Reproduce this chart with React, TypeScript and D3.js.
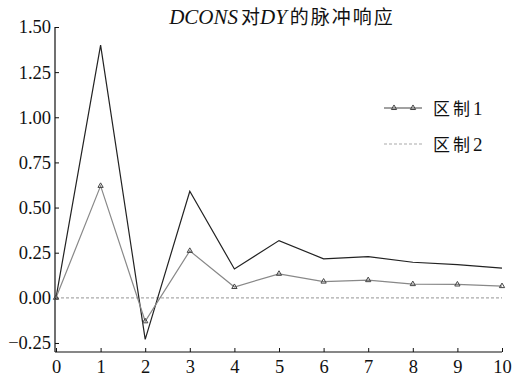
import { useEffect, useRef } from 'react';
import * as d3 from 'd3';

const periods = [0, 1, 2, 3, 4, 5, 6, 7, 8, 9, 10];
const upperValues = [0, 1.40, -0.23, 0.59, 0.16, 0.317, 0.216, 0.228, 0.197, 0.184, 0.164];
const lowerValues = [0, 0.62, -0.13, 0.26, 0.06, 0.133, 0.09, 0.098, 0.076, 0.074, 0.065];
const yTicks = [-0.25, 0, 0.25, 0.5, 0.75, 1.0, 1.25, 1.5];
const legendLabels = ['区制1', '区制2'];

const W = 515, H = 379;
const m = { top: 27, right: 13, bottom: 27, left: 56 };
const SERIF = 'Liberation Serif, DejaVu Serif, serif';
const CJK = 'Noto Sans CJK SC, sans-serif';

export default function App() {
  const svgRef = useRef<SVGSVGElement>(null);

  useEffect(() => {
    const svg = d3.select(svgRef.current);
    svg.selectAll('*').remove();

    const x = d3.scaleLinear().domain([0, 10]).range([m.left, W - m.right]);
    const y = d3.scaleLinear().domain([-0.3, 1.5]).range([H - m.bottom, m.top]);

    // Axes
    const yAxis = svg.append('g').attr('transform', `translate(${m.left - 1},0)`)
      .call(d3.axisRight(y).tickValues(yTicks).tickSize(4).tickFormat(d3.format('.2f')))
      .attr('font-family', SERIF).attr('font-size', 18.5);
    yAxis.select('.domain').attr('d', `M0,${m.top}V${H - m.bottom}`).attr('stroke', '#111').attr('stroke-width', 1.2);
    yAxis.selectAll('.tick line').attr('stroke', '#111');
    yAxis.selectAll('text').attr('x', -4).attr('text-anchor', 'end').attr('fill', '#111');

    const xAxis = svg.append('g').attr('transform', `translate(0,${H - m.bottom})`)
      .call(d3.axisTop(x).tickValues(periods).tickSize(4).tickFormat(d3.format('d')))
      .attr('font-family', SERIF).attr('font-size', 18.5);
    xAxis.select('.domain').attr('d', `M${m.left - 1},0H${W - m.right}`).attr('stroke', '#111').attr('stroke-width', 1.2);
    xAxis.selectAll('.tick line').attr('stroke', '#111');
    xAxis.selectAll('text').attr('y', 21).attr('dy', 0).attr('fill', '#111');

    // Zero line
    svg.append('line')
      .attr('x1', x(0)).attr('x2', x(10)).attr('y1', y(0)).attr('y2', y(0))
      .attr('stroke', '#aaa').attr('stroke-width', 1.2).attr('stroke-dasharray', '3,2');

    const line = d3.line<number>().x((_, i) => x(periods[i])).y(d => y(d));

    svg.append('path').datum(upperValues)
      .attr('fill', 'none').attr('stroke', '#222').attr('stroke-width', 1.2).attr('d', line);

    svg.append('path').datum(lowerValues)
      .attr('fill', 'none').attr('stroke', '#888').attr('stroke-width', 1.2).attr('d', line);

    const tri = d3.symbol().type(d3.symbolTriangle).size(12);
    svg.append('g').selectAll('path').data(lowerValues).join('path')
      .attr('transform', (d, i) => `translate(${x(periods[i])},${y(d)})`)
      .attr('d', tri).attr('fill', 'none').attr('stroke', '#444').attr('stroke-width', 1);

    // Title
    const title = svg.append('text').attr('x', 282).attr('y', 24).attr('text-anchor', 'middle')
      .attr('font-size', 21).attr('fill', '#111');
    title.append('tspan').attr('font-family', SERIF).attr('font-style', 'italic').text('DCONS');
    title.append('tspan').attr('font-family', CJK).attr('font-size', 19).attr('dx', 3).text('对');
    title.append('tspan').attr('font-family', SERIF).attr('font-style', 'italic').text('DY');
    title.append('tspan').attr('font-family', CJK).attr('font-size', 19).attr('dx', 3)
      .attr('letter-spacing', 2).text('的脉冲响应');

    // Legend
    const lg = svg.append('g');
    legendLabels.forEach((label, i) => {
      const ly = 108 + i * 36;
      lg.append('line').attr('x1', 384).attr('x2', 422).attr('y1', ly).attr('y2', ly)
        .attr('stroke', i === 0 ? '#444' : '#aaa').attr('stroke-width', 1.2)
        .attr('stroke-dasharray', i === 0 ? null : '3,2');
      if (i === 0) {
        [394, 413].forEach(px => {
          lg.append('path').attr('transform', `translate(${px},${ly})`).attr('d', tri)
            .attr('fill', 'none').attr('stroke', '#444');
        });
      }
      const t = lg.append('text').attr('x', 433).attr('y', ly + 7).attr('font-size', 19).attr('fill', '#111');
      t.append('tspan').attr('font-family', CJK).attr('font-size', 17).attr('letter-spacing', 3).text(label.slice(0, 2));
      t.append('tspan').attr('font-family', SERIF).text(label.slice(2));
    });
  }, []);

  return (
    <svg ref={svgRef} width={W} height={H}
      style={{ position: 'absolute', left: 0, top: 0, background: '#fff' }} />
  );
}
